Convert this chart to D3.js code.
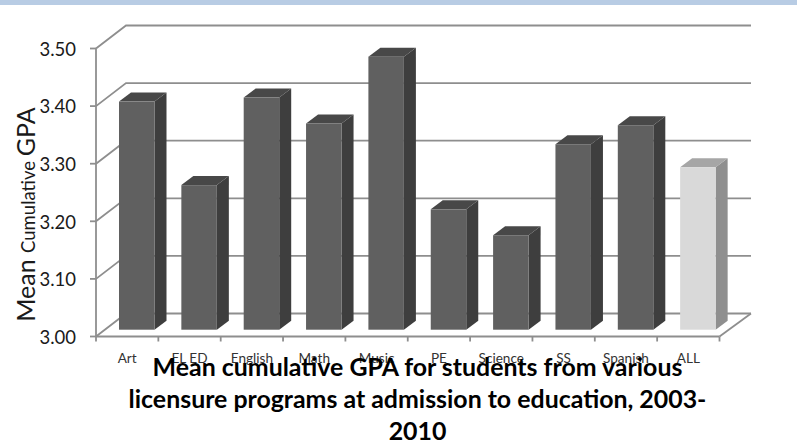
<!DOCTYPE html>
<html>
<head>
<meta charset="utf-8">
<script src="https://cdn.jsdelivr.net/npm/d3@7/dist/d3.min.js"></script>
<style>
  html, body { margin: 0; padding: 0; background: #fff; }
  svg { display: block; }
  text { font-family: Lato, "Open Sans", sans-serif; fill: #1a1a1a; }
</style>
</head>
<body>
<svg id="chart" width="797" height="446"></svg>
<script>
const categories = ["Art", "EL ED", "English", "Math", "Music", "PE", "Science", "SS", "Spanish", "ALL"];
const gpaValues = [3.396, 3.251, 3.403, 3.358, 3.474, 3.209, 3.164, 3.322, 3.355, 3.282];
const highlighted = ["ALL"];
const gpaTicks = [3.0, 3.1, 3.2, 3.3, 3.4, 3.5];
const titleLines = [
  "Mean cumulative GPA for students from various",
  "licensure programs at admission to education, 2003-",
  "2010"
];

const svg = d3.select("#chart");

// Page header band
svg.append("rect").attr("width", 797).attr("height", 5).attr("fill", "#b8cce4");

// Front plane of the plot, with the oblique offsets of the 3D box
const x = d3.scaleBand().domain(categories).range([96, 719.5]).paddingInner(0).paddingOuter(0);
const y = d3.scaleLinear().domain([3.0, 3.5]).range([336.5, 48.5]);
const wall = { dx: 30, dy: -23 };
const barDepth = { dx: 12, dy: -9 };
const barInset = { left: 23, width: 35.5, rise: 6.8 };

const gridColor = "#8e8e8e";
const frame = svg.append("g").attr("fill", "none").attr("stroke", gridColor).attr("stroke-width", 1.8);

// Gridlines along the back wall, with their diagonals on the side wall
gpaTicks.forEach(t => {
  const yy = y(t);
  frame.append("path").attr("d", d3.line()([
    [x.range()[0], yy],
    [x.range()[0] + wall.dx, yy + wall.dy],
    [751, yy + wall.dy]
  ]));
  frame.append("line")
    .attr("x1", x.range()[0] - 6).attr("x2", x.range()[0])
    .attr("y1", yy).attr("y2", yy);
});

// Side-wall edge, floor front edge and the floor's right edge
frame.append("line").attr("x1", 96).attr("x2", 96).attr("y1", y(3.5)).attr("y2", y(3.0));
frame.append("line").attr("x1", 96).attr("x2", 719.5).attr("y1", y(3.0)).attr("y2", y(3.0));
frame.append("line").attr("x1", 719.5).attr("x2", 751).attr("y1", y(3.0)).attr("y2", y(3.0) + wall.dy);

// Category tick marks
[...categories.map(c => x(c)), x.range()[1]].forEach(px => {
  frame.append("line").attr("x1", px).attr("x2", px).attr("y1", y(3.0)).attr("y2", y(3.0) + 5);
});

// Extruded bars: front, top and side faces
const palette = {
  normal: { front: "#606060", top: "#484848", side: "#3e3e3e" },
  accent: { front: "#d9d9d9", top: "#a6a6a6", side: "#8f8f8f" }
};
svg.append("g").selectAll("g")
  .data(categories.map((c, i) => ({ c, v: gpaValues[i] })))
  .join("g")
  .each(function (d) {
    const g = d3.select(this);
    const col = highlighted.includes(d.c) ? palette.accent : palette.normal;
    const x0 = x(d.c) + barInset.left;
    const x1 = x0 + barInset.width;
    const top = y(d.v) - barInset.rise;
    const base = y(3.0) - barInset.rise;
    const poly = pts => d3.line()(pts) + "Z";
    g.append("path").attr("fill", col.side).attr("d", poly([
      [x1, top], [x1 + barDepth.dx, top + barDepth.dy],
      [x1 + barDepth.dx, base + barDepth.dy], [x1, base]
    ]));
    g.append("path").attr("fill", col.top).attr("d", poly([
      [x0, top], [x0 + barDepth.dx, top + barDepth.dy],
      [x1 + barDepth.dx, top + barDepth.dy], [x1, top]
    ]));
    g.append("rect").attr("fill", col.front)
      .attr("x", x0).attr("y", top).attr("width", barInset.width).attr("height", base - top);
  });

// Value axis labels
svg.append("g").selectAll("text").data(gpaTicks).join("text")
  .attr("x", 76).attr("y", d => y(d) + 7.2)
  .attr("text-anchor", "end").attr("font-size", 18.5)
  .text(d3.format(".2f"));

// Category labels
svg.append("g").selectAll("text").data(categories).join("text")
  .attr("x", d => x(d) + x.bandwidth() / 2).attr("y", 363)
  .attr("text-anchor", "middle").attr("font-size", 13.6)
  .style("fill", "#333")
  .text(d => d);

// Value axis title, with a smaller middle word
const axisTitle = svg.append("text")
  .attr("transform", "translate(35,214.5) rotate(-90)")
  .attr("text-anchor", "middle").attr("font-size", 25);
axisTitle.append("tspan").text("Mean ");
axisTitle.append("tspan").attr("font-size", 18.5).text("Cumulative ");
axisTitle.append("tspan").text("GPA");

// Chart title, drawn over the category labels
svg.append("g").selectAll("text").data(titleLines).join("text")
  .attr("x", 417.5).attr("y", (d, i) => 376 + i * 32.2)
  .attr("text-anchor", "middle").attr("font-size", 24.9).attr("font-weight", 700)
  .style("fill", "#000")
  .text(d => d);
</script>
</body>
</html>
